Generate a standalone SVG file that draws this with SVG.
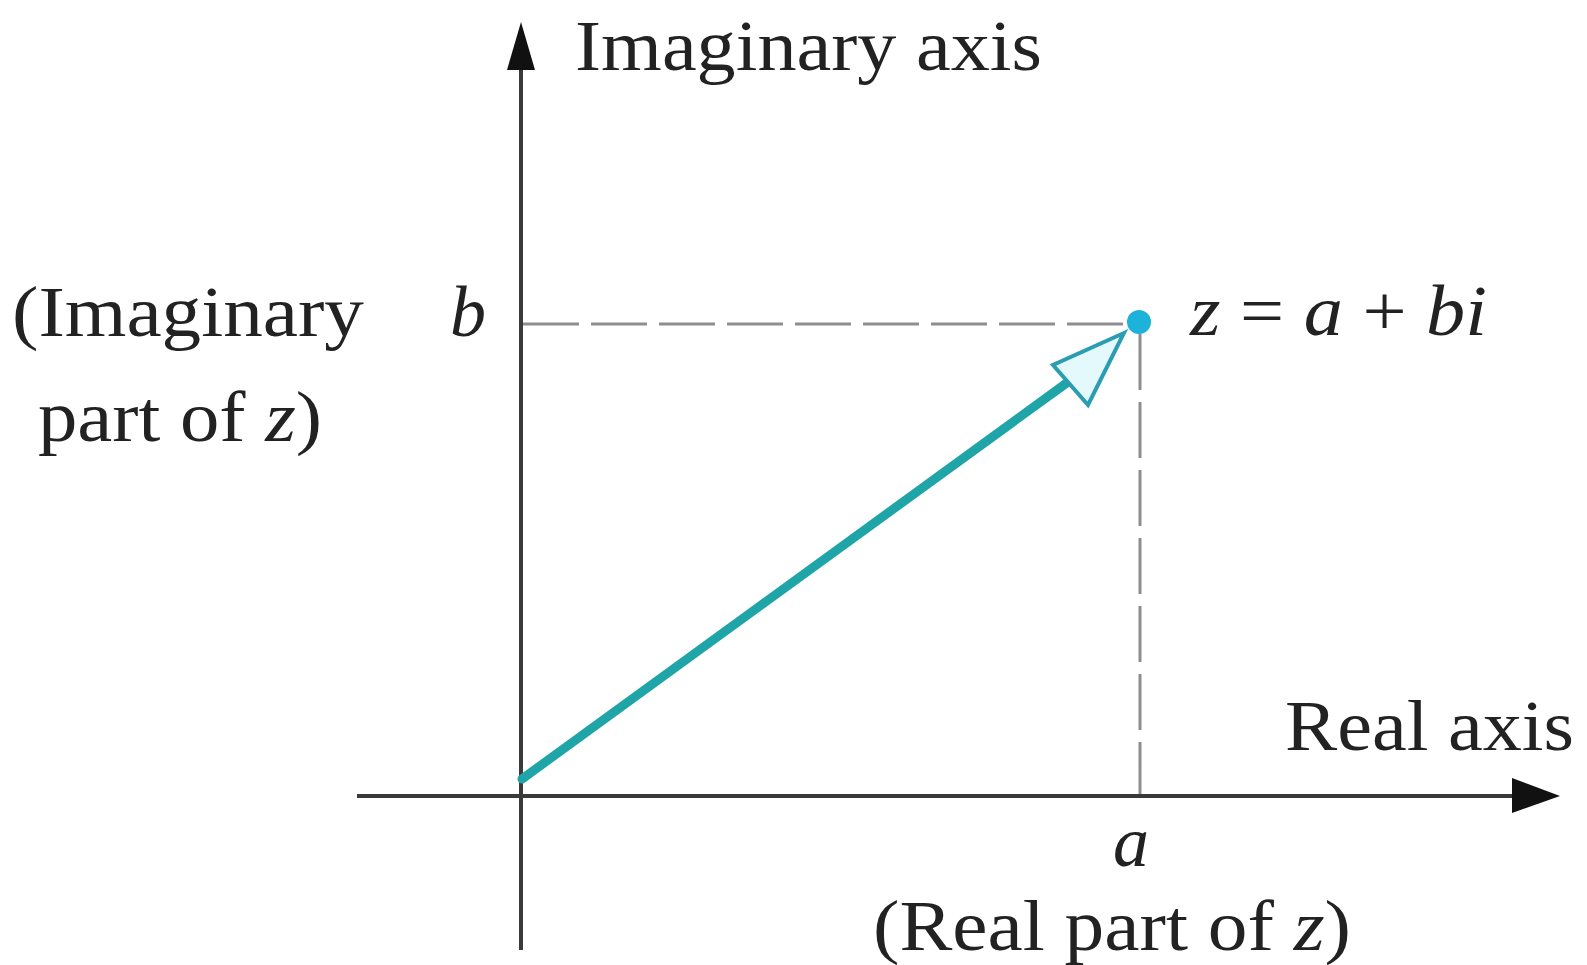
<svg xmlns="http://www.w3.org/2000/svg" width="1587" height="965" viewBox="0 0 1587 965">
  <defs>
    <style>
      .lbl { font-family: "Liberation Serif", "Times New Roman", serif; font-size: 72px; fill: #222; }
      .it { font-style: italic; }
      .axis { stroke: #3a3a3a; stroke-width: 4; fill: none; }
      .dash { stroke: #8e8e8e; stroke-width: 3; stroke-dasharray: 56 12; fill: none; }
      .head { fill: #111; stroke: none; }
      .vec { stroke: #1fa5a8; stroke-width: 9; stroke-linecap: round; fill: none; }
      .vhead { stroke: #2a9eb0; stroke-width: 4; fill: #e4f9fc; stroke-linejoin: miter; }
    </style>
  </defs>
  <rect width="1587" height="965" fill="#ffffff"/>

  <g id="connectors">
    <line class="dash" x1="523" y1="324" x2="1130" y2="324"/>
    <line class="dash" x1="1140" y1="334" x2="1140" y2="794"/>
    <line class="axis" x1="357" y1="796" x2="1520" y2="796"/>
    <polygon class="head" points="1560,796 1512,778 1512,813"/>
    <line class="axis" x1="521" y1="950" x2="521" y2="62"/>
    <polygon class="head" points="521,22 507,70 535,70"/>
  </g>

  <g id="vector">
    <line class="vec" x1="522" y1="779" x2="1068" y2="382"/>
    <polygon class="vhead" points="1124,333 1053,365 1088,405"/>
  </g>

  <g id="point-z">
    <circle cx="1139" cy="322" r="12" fill="#1cb2d9"/>
  </g>

  <g id="label-imag-axis">
    <text class="lbl" x="575" y="70" textLength="467" lengthAdjust="spacingAndGlyphs">Imaginary axis</text>
  </g>
  <g id="label-imag-part">
    <text class="lbl" x="12" y="336" textLength="352" lengthAdjust="spacingAndGlyphs">(Imaginary</text>
    <text class="lbl" x="38" y="441" textLength="284" lengthAdjust="spacingAndGlyphs">part of <tspan class="it">z</tspan>)</text>
  </g>
  <g id="label-b">
    <text class="lbl it" x="450" y="336">b</text>
  </g>
  <g id="label-z">
    <text class="lbl" x="1190" y="335" textLength="297" lengthAdjust="spacingAndGlyphs"><tspan class="it">z</tspan> = <tspan class="it">a</tspan> + <tspan class="it">bi</tspan></text>
  </g>
  <g id="label-real-axis">
    <text class="lbl" x="1285" y="750" textLength="289" lengthAdjust="spacingAndGlyphs">Real axis</text>
  </g>
  <g id="label-a">
    <text class="lbl it" x="1113" y="866">a</text>
  </g>
  <g id="label-real-part">
    <text class="lbl" x="873" y="950" textLength="478" lengthAdjust="spacingAndGlyphs">(Real part of <tspan class="it">z</tspan>)</text>
  </g>
</svg>
